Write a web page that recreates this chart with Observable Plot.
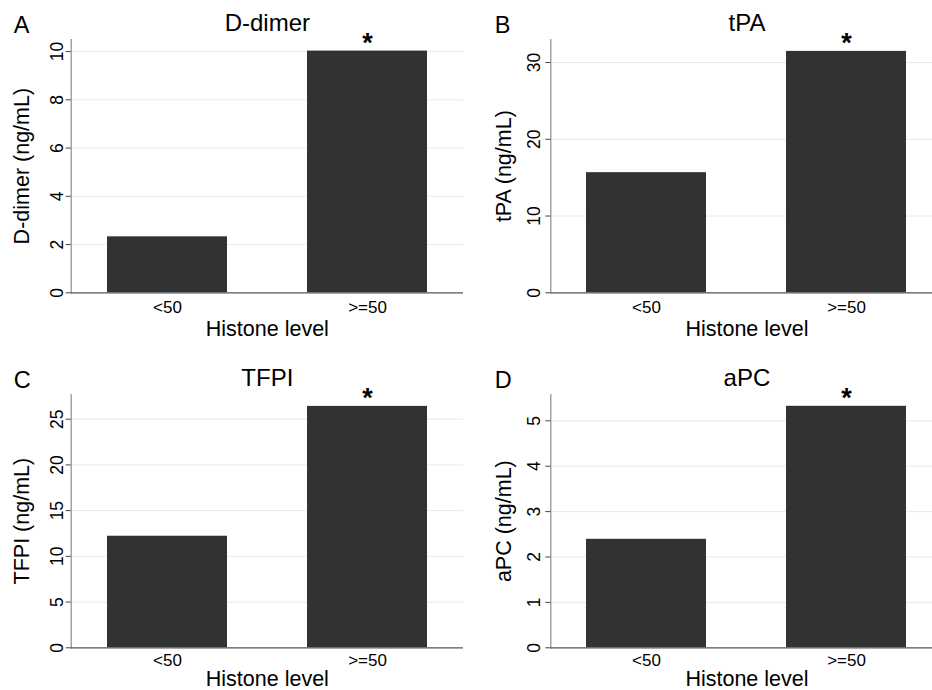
<!DOCTYPE html>
<html>
<head>
<meta charset="utf-8">
<script src="https://cdn.jsdelivr.net/npm/d3@7"></script>
<script src="https://cdn.jsdelivr.net/npm/@observablehq/plot@0.6"></script>
<style>
  html, body { margin: 0; padding: 0; background: #fff; }
  #figure { position: relative; width: 932px; height: 690px; overflow: hidden; background: #fff; }
  #figure svg { position: absolute; }
</style>
</head>
<body>
<div id="figure"></div>
<script>
// Histone groups on the x axis
const groups = ["<50", ">=50"];
const significant = [false, true];

// Mean concentrations (ng/mL) per histone group
const dDimer = [2.32, 10.02];
const tPA = [15.65, 31.45];
const tfpi = [12.2, 26.4];
const aPC = [2.39, 5.32];

// Tick values and axis extents of each panel
const dDimerTicks = [0, 2, 4, 6, 8, 10];
const tPATicks = [0, 10, 20, 30];
const tfpiTicks = [0, 5, 10, 15, 20, 25];
const aPCTicks = [0, 1, 2, 3, 4, 5];
const yTops = [10.5, 33, 27.7, 5.58];

// Text
const panelLetters = ["A", "B", "C", "D"];
const panelTitles = ["D-dimer", "tPA", "TFPI", "aPC"];
const yLabels = ["D-dimer (ng/mL)", "tPA (ng/mL)", "TFPI (ng/mL)", "aPC (ng/mL)"];
const xLabel = "Histone level";

const FONT = "'Liberation Sans', Arial, Helvetica, sans-serif";

function panel({letter, title, yLabel, values, ticks, yTop, left, bottomRow}) {
  const marginTop = 39, marginBottom = 52.7, height = 345;
  const marginLeft = left ? 70.7 : 84.3;
  const rangeWidth = 392.3;
  const width = left ? 466 : 480;
  const marginRight = width - marginLeft - rangeWidth;
  const tickPad = left ? 3 : 6;
  const titleDx = left ? 13 - marginLeft : 29.5 - marginLeft;
  const letterDx = left ? 13.3 - marginLeft : 28.3 - marginLeft;
  const xTitleDy = bottomRow ? 38 : 42.7;
  const xTickPad = bottomRow ? 6.5 : 8;

  const data = groups.map((g, i) => ({group: g, value: values[i], sig: significant[i]}));

  return Plot.plot({
    width, height, marginTop, marginBottom, marginLeft, marginRight,
    style: {fontFamily: FONT, fontSize: "17px", color: "#000", background: "transparent", overflow: "visible"},
    x: {domain: groups, paddingInner: 0.4, paddingOuter: 0.18, axis: null},
    y: {domain: [0, yTop], axis: null},
    marks: [
      Plot.gridY(ticks.filter(t => t > 0), {stroke: "#e9e9e9", strokeOpacity: 1, strokeWidth: 1}),
      Plot.barY(data, {x: "group", y: "value", fill: "#323232"}),
      Plot.frame({anchor: "left", stroke: "#8c8c8c", strokeWidth: 1.2}),
      Plot.ruleY([0], {stroke: "#555", strokeWidth: 1.2}),
      Plot.axisY(ticks, {
        anchor: "left", tickRotate: -90, tickSize: 5, tickPadding: tickPad,
        textAnchor: "middle", lineAnchor: "bottom",
        fontSize: 17.5, stroke: "#444", label: null
      }),
      Plot.axisX({anchor: "bottom", tickSize: 0, tickPadding: xTickPad, fontSize: 17, label: null}),
      // significance marker above the bar
      Plot.text(data.filter(d => d.sig), {
        x: "group", y: "value", text: () => "*", dy: 1,
        lineAnchor: "bottom", fontSize: 27, fontWeight: "bold"
      }),
      // panel title
      Plot.text([title], {text: d => d, frameAnchor: "top", dy: -8.3, lineAnchor: "bottom", fontSize: 24}),
      // panel letter
      Plot.text([letter], {text: d => d, frameAnchor: "top-left", dx: letterDx, dy: -6.8,
        textAnchor: "start", lineAnchor: "bottom", fontSize: 23.5}),
      // y axis title
      Plot.text([yLabel], {text: d => d, frameAnchor: "left", dx: titleDx, rotate: -90,
        textAnchor: "middle", lineAnchor: "top", fontSize: 21.5}),
      // x axis title
      Plot.text([xLabel], {text: d => d, frameAnchor: "bottom", dy: xTitleDy,
        textAnchor: "middle", lineAnchor: "bottom", fontSize: 21.5})
    ]
  });
}

const specs = [
  {values: dDimer, ticks: dDimerTicks, left: true,  bottomRow: false, x: 0,   y: 0},
  {values: tPA,    ticks: tPATicks,    left: false, bottomRow: false, x: 466, y: 0},
  {values: tfpi,   ticks: tfpiTicks,   left: true,  bottomRow: true,  x: 0,   y: 355},
  {values: aPC,    ticks: aPCTicks,    left: false, bottomRow: true,  x: 466, y: 355}
];

const fig = document.getElementById("figure");
specs.forEach((s, i) => {
  const svg = panel({
    letter: panelLetters[i], title: panelTitles[i], yLabel: yLabels[i],
    values: s.values, ticks: s.ticks, yTop: yTops[i], left: s.left, bottomRow: s.bottomRow
  });
  svg.style.left = s.x + "px";
  svg.style.top = s.y + "px";
  fig.appendChild(svg);
});
</script>
</body>
</html>
